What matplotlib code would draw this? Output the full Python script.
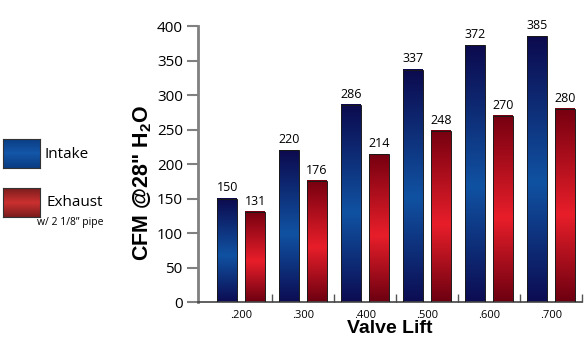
import numpy as np
import matplotlib
matplotlib.use("Agg")
import matplotlib.pyplot as plt
from matplotlib.colors import LinearSegmentedColormap
from matplotlib.patches import Rectangle

plt.rcParams['font.family'] = ['Open Sans', 'DejaVu Sans']
plt.rcParams['mathtext.fontset'] = 'custom'
plt.rcParams['mathtext.bf'] = 'Liberation Sans:bold'
plt.rcParams['mathtext.rm'] = 'Liberation Sans'

lifts = ['.200', '.300', '.400', '.500', '.600', '.700']
intake = [150, 220, 286, 337, 372, 385]
exhaust = [131, 176, 214, 248, 270, 280]

# colour ramps: index 0 = bottom of bar, 1 = top
blue_cm = LinearSegmentedColormap.from_list(
    'blue', [(0, '#0c0c52'), (0.45, '#1052a2'), (1, '#0c0a4e')])
red_cm = LinearSegmentedColormap.from_list(
    'red', [(0, '#6c0010'), (0.45, '#e81e2a'), (1, '#760010')])

fig = plt.figure(figsize=(5.86, 3.44), dpi=100)
ax = fig.add_axes([0.338, 0.122, 0.655, 0.802])

W = 0.32
grad = np.linspace(0, 1, 256).reshape(-1, 1)


def grad_bar(x, h, cmap):
    ax.imshow(grad, cmap=cmap, extent=[x - W / 2, x + W / 2, 0, h],
              origin='lower', aspect='auto', zorder=2, interpolation='bilinear')
    ax.add_patch(Rectangle((x - W / 2, 0), W, h, fill=False,
                           edgecolor='#1a1a1a', lw=0.7, zorder=3))


for i, (a, b) in enumerate(zip(intake, exhaust)):
    xa, xb = i - 0.22, i + 0.23
    grad_bar(xa, a, blue_cm)
    grad_bar(xb, b, red_cm)
    ax.text(xa, a + 6, str(a), ha='center', va='bottom', fontsize=9)
    ax.text(xb, b + 6, str(b), ha='center', va='bottom', fontsize=9)

ax.set_xlim(-0.69, 5.5)
ax.set_ylim(0, 400)
ax.set_yticks(range(0, 401, 50))
ax.set_xticks(range(len(lifts)))
ax.set_xticklabels(lifts, fontsize=8)
ax.set_xticks(np.arange(0.5, 5.6, 1), minor=True)
ax.tick_params(axis='x', which='major', length=0, pad=6)
ax.tick_params(axis='x', which='minor', direction='in', length=6,
               color='#555555', width=1)
ax.tick_params(axis='y', direction='out', length=8, width=1.5,
               color='#808080', labelsize=11, pad=3)

for s in ['top', 'right']:
    ax.spines[s].set_visible(False)
ax.spines['left'].set_color('#808080')
ax.spines['left'].set_linewidth(2)
ax.spines['bottom'].set_color('#444444')
ax.spines['bottom'].set_linewidth(1.2)

ax.set_ylabel('CFM @28" H$_\\mathbf{2}$O', fontsize=15.5, fontweight='bold',
              family='Liberation Sans')
ax.yaxis.set_label_coords(-0.115, 0.43)
ax.set_xlabel('Valve Lift', fontsize=14, fontweight='bold', family='Liberation Sans',
              labelpad=-1)

# legend on the left
leg_blue = LinearSegmentedColormap.from_list('lb', ['#0a3c82', '#1456a8', '#0a3c82'])
leg_red = LinearSegmentedColormap.from_list('lr', ['#7a1c1c', '#cc3030', '#7a1c1c'])
for cm, ytop in [(leg_blue, 139), (leg_red, 188)]:
    lax = fig.add_axes([3 / 586, 1 - (ytop + 29) / 344, 37 / 586, 29 / 344])
    lax.imshow(grad, cmap=cm, aspect='auto')
    for s in lax.spines.values():
        s.set_color('#333333')
        s.set_linewidth(0.8)
    lax.set_xticks([])
    lax.set_yticks([])

fig.text(45 / 586, 1 - 154 / 344, 'Intake', fontsize=11, va='center')
fig.text(46 / 586, 1 - 202 / 344, 'Exhaust', fontsize=11, va='center')
fig.text(37 / 586, 1 - 223 / 344, 'w/ 2 1/8\u201d pipe', fontsize=7.5, va='center')

fig.savefig('out.png', dpi=100)
